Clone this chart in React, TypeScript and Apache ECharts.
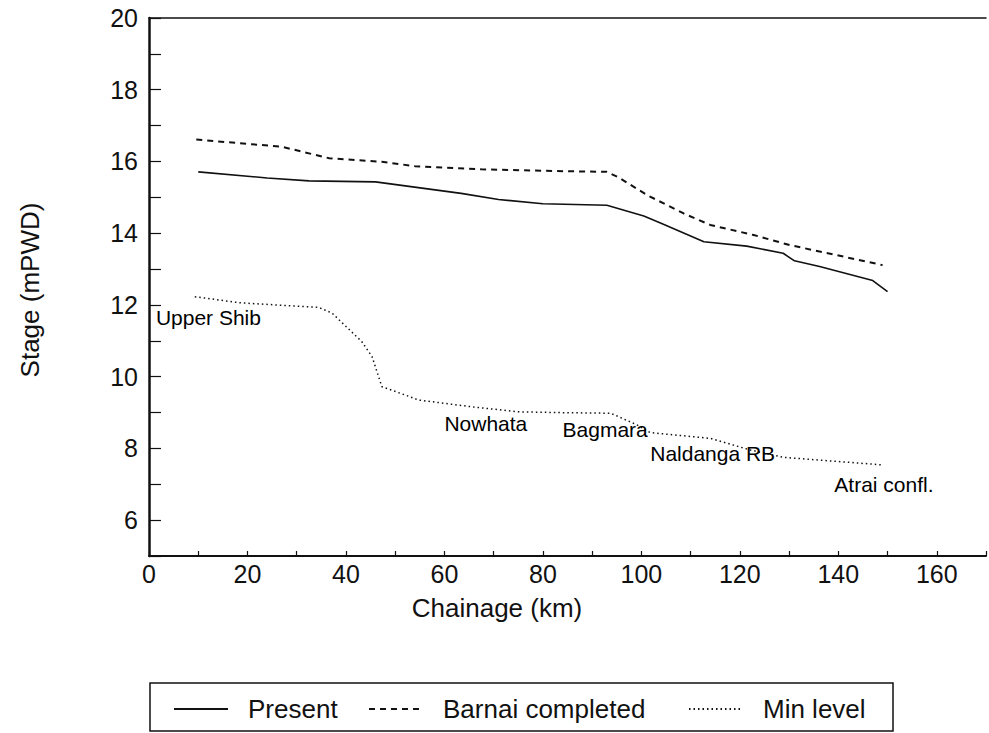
import React, { useEffect, useRef } from "react";
import * as echarts from "echarts";

const FONT = "'Liberation Sans', Arial, Helvetica, sans-serif";
const INK = "#111111";

const presentData: [number, number][] = [
  [10, 15.71], [24, 15.54], [32.5, 15.46], [46, 15.43], [63.4, 15.11], [71, 14.94],
  [80, 14.82], [93, 14.78], [100.5, 14.48], [104, 14.28], [112.7, 13.76], [121.4, 13.64],
  [128.8, 13.44], [131.1, 13.23], [136.2, 13.07], [147, 12.68], [150, 12.37],
];

const barnaiData: [number, number][] = [
  [9.6, 16.61], [27, 16.41], [36.6, 16.09], [47.3, 15.99], [54, 15.87], [67.5, 15.78],
  [80, 15.74], [93, 15.71], [95.2, 15.57], [101.2, 15.06], [108.6, 14.55], [114, 14.23],
  [122.8, 13.95], [130.1, 13.67], [139.6, 13.39], [149, 13.11],
];

const minLevelData: [number, number][] = [
  [9.3, 12.23], [18.4, 12.06], [34.5, 11.93], [37.2, 11.77], [43.2, 10.98], [45.3, 10.56],
  [47.3, 9.72], [52, 9.49], [54.7, 9.35], [65.5, 9.16], [75, 9.02], [82.4, 9.0],
  [93.8, 8.98], [99.2, 8.65], [101.8, 8.44], [114, 8.28], [122, 7.96], [128.9, 7.75],
  [149, 7.54],
];

const placeNames = ["Upper Shib", "Nowhata", "Bagmara", "Naldanga RB", "Atrai confl."];
const placeCoords: [number, number][] = [
  [1.4, 11.65], [60.0, 8.7], [84.0, 8.52], [101.8, 7.87], [139.2, 6.98],
];

const seriesNames = ["Present", "Barnai completed", "Min level"];

export default function App() {
  const ref = useRef<HTMLDivElement>(null);

  useEffect(() => {
    if (!ref.current) return;
    const chart = echarts.init(ref.current, undefined, { renderer: "svg" });

    const legendCommon = {
      orient: "horizontal" as const,
      padding: 0,
      itemWidth: 54,
      itemHeight: 14,
      selectedMode: false,
      itemStyle: { opacity: 0 },
      textStyle: { fontSize: 26, fontFamily: FONT, color: INK, padding: [0, 0, 0, 15] },
    };

    chart.setOption({
      animation: false,
      backgroundColor: "#ffffff",
      grid: { left: 149, right: 0, top: 18, bottom: 177, containLabel: false },
      legend: [
        { ...legendCommon, data: [seriesNames[0]], left: 173, top: 696 },
        { ...legendCommon, data: [seriesNames[1]], left: 368, top: 696 },
        { ...legendCommon, data: [seriesNames[2]], left: 688, top: 696 },
      ],
      xAxis: [
        {
          type: "value",
          min: 0,
          max: 170,
          interval: 10,
          axisLine: { show: true, onZero: false, lineStyle: { color: INK, width: 2 } },
          axisTick: { show: true, inside: true, length: 5, lineStyle: { color: INK, width: 1.2 } },
          axisLabel: {
            fontSize: 25,
            fontFamily: FONT,
            color: INK,
            margin: 5,
            formatter: (v: number) => (v % 20 === 0 ? String(v) : ""),
          },
          splitLine: { show: false },
        },
        {
          type: "value",
          position: "top",
          min: 0,
          max: 170,
          axisLine: { show: true, lineStyle: { color: INK, width: 1.5 } },
          axisTick: { show: false },
          axisLabel: { show: false },
          splitLine: { show: false },
        },
      ],
      yAxis: {
        type: "value",
        min: 5,
        max: 20,
        interval: 1,
        axisLine: { show: true, onZero: false, lineStyle: { color: INK, width: 2.5 } },
        axisTick: { show: true, inside: true, length: 12, lineStyle: { color: INK, width: 1.2 } },
        axisLabel: {
          fontSize: 25,
          fontFamily: FONT,
          color: INK,
          margin: 11,
          formatter: (v: number) => (v % 2 === 0 ? String(v) : ""),
        },
        splitLine: { show: false },
      },
      graphic: [
        {
          type: "rect",
          shape: { x: 150, y: 683, width: 743, height: 48 },
          style: { fill: "none", stroke: INK, lineWidth: 1.5 },
          silent: true,
        },
        {
          type: "text",
          x: 497,
          y: 608,
          style: {
            text: "Chainage (km)",
            fontSize: 26,
            fontFamily: FONT,
            fill: INK,
            align: "center",
            verticalAlign: "middle",
          },
        },
        {
          type: "text",
          x: 30,
          y: 290,
          rotation: Math.PI / 2,
          style: {
            text: "Stage (mPWD)",
            fontSize: 26,
            fontFamily: FONT,
            fill: INK,
            align: "center",
            verticalAlign: "middle",
          },
        },
      ],
      series: [
        {
          name: seriesNames[0],
          type: "line",
          data: presentData,
          symbol: "none",
          lineStyle: { color: INK, width: 1.6, type: "solid" },
          itemStyle: { color: INK },
        },
        {
          name: seriesNames[1],
          type: "line",
          data: barnaiData,
          symbol: "none",
          lineStyle: { color: INK, width: 2, type: [6, 5] },
          itemStyle: { color: INK },
        },
        {
          name: seriesNames[2],
          type: "line",
          data: minLevelData,
          symbol: "none",
          lineStyle: { color: INK, width: 1.5, type: [1.5, 3] },
          itemStyle: { color: INK },
        },
        {
          name: "places",
          type: "scatter",
          symbolSize: 0,
          silent: true,
          itemStyle: { color: "#000", opacity: 1 },
          data: placeNames.map((n, i) => ({ name: n, value: placeCoords[i] })),
          label: {
            show: true,
            position: "right",
            distance: 0,
            formatter: "{b}",
            fontSize: 21,
            fontFamily: FONT,
            color: "#000",
            opacity: 1,
          },
          z: 5,
        },
      ],
    });

    return () => chart.dispose();
  }, []);

  return (
    <div
      ref={ref}
      style={{ position: "fixed", left: 0, top: 0, width: 989, height: 733, background: "#fff" }}
    />
  );
}
